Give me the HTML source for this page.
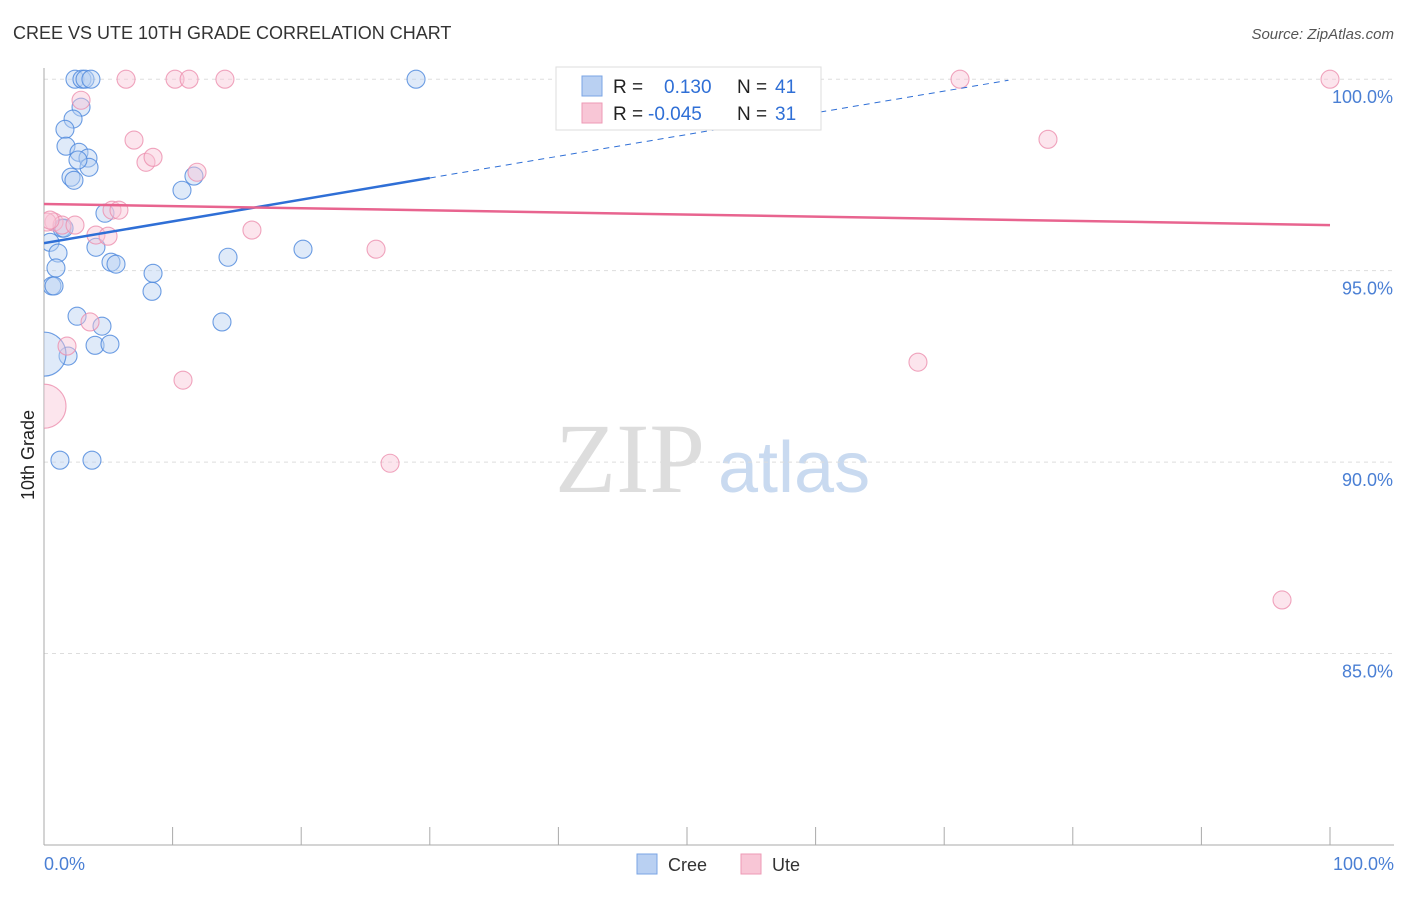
<!DOCTYPE html>
<html><head><meta charset="utf-8"><style>
body{margin:0;background:#fff;font-family:"Liberation Sans",sans-serif}
</style></head><body>
<svg width="1406" height="892" viewBox="0 0 1406 892">
<defs><clipPath id="plot"><rect x="44" y="60" width="1360" height="785"/></clipPath></defs>
<text x="13" y="39" font-size="18" fill="#333">CREE VS UTE 10TH GRADE CORRELATION CHART</text>
<text x="1394" y="39" font-size="15" fill="#555" font-style="italic" text-anchor="end">Source: ZipAtlas.com</text>
<text x="555" y="492" font-size="100" fill="#ddd" font-family="Liberation Serif,serif">ZIP</text>
<text x="718" y="492" font-size="72" fill="#c9daf0">atlas</text>
<g id="grid"></g>
<line x1="44" y1="68" x2="44" y2="845" stroke="#aaa"/>
<line x1="44" y1="845" x2="1394" y2="845" stroke="#aaa"/>
<text x="34" y="455" font-size="18" fill="#222" text-anchor="middle" transform="rotate(-90 34 455)">10th Grade</text>
<text x="44" y="870" font-size="18" fill="#4a7fd4">0.0%</text>
<text x="1394" y="870" font-size="18" fill="#4a7fd4" text-anchor="end">100.0%</text>
<g id="marks" clip-path="url(#plot)"></g>
<g>
<rect x="556" y="67" width="265" height="63" fill="#fff" stroke="#ddd"/>
<rect x="582" y="76" width="20" height="20" fill="#b9d0f2" stroke="#7aa4e4"/>
<rect x="582" y="103" width="20" height="20" fill="#f8c6d6" stroke="#ee9ab5"/>
<text x="613" y="93" font-size="19" fill="#222">R =</text>
<text x="664" y="93" font-size="19" fill="#2f6fd6">0.130</text>
<text x="737" y="93" font-size="19" fill="#222">N =</text>
<text x="775" y="93" font-size="19" fill="#2f6fd6">41</text>
<text x="613" y="120" font-size="19" fill="#222">R =</text>
<text x="648" y="120" font-size="19" fill="#2f6fd6">-0.045</text>
<text x="737" y="120" font-size="19" fill="#222">N =</text>
<text x="775" y="120" font-size="19" fill="#2f6fd6">31</text>
</g>
<g><rect x="637" y="854" width="20" height="20" fill="#b9d0f2" stroke="#7aa4e4"/><text x="668" y="871" font-size="18" fill="#333">Cree</text></g>
<g><rect x="741" y="854" width="20" height="20" fill="#f8c6d6" stroke="#ee9ab5"/><text x="772" y="871" font-size="18" fill="#333">Ute</text></g>
</svg>
<script>
const yTicks=[100,95,90,85];
const xTicks=[0,10,20,30,40,50,60,70,80,90,100];
const creeX=[2.41,2.95,3.19,3.65,28.93,2.88,2.26,1.63,1.71,2.72,3.42,3.50,2.10,2.33,10.73,11.66,4.74,1.40,0.47,4.04,1.09,5.21,5.60,20.14,14.31,8.48,0.93,0.62,0.78,8.40,2.57,4.51,13.84,1.87,3.97,5.13,0,1.24,3.73,1.56,2.64];
const creeY=[100,100,100,100,100,99.27,98.96,98.69,98.25,98.09,97.94,97.70,97.44,97.36,97.10,97.47,96.50,96.11,95.74,95.61,95.46,95.22,95.17,95.56,95.35,94.93,95.07,94.60,94.60,94.46,93.81,93.55,93.66,92.77,93.05,93.08,92.82,90.05,90.05,96.11,97.89];
const creeR=[9,9,9,9,9,9,9,9,9,9,9,9,9,9,9,9,9,9,9,9,9,9,9,9,9,9,9,9,9,9,9,9,9,9,9,9,22,9,9,9,9];
const uteX=[6.38,10.19,11.28,14.07,52.33,71.23,100,2.88,7.00,7.93,8.48,11.90,78.07,0.78,1.40,2.41,5.29,5.83,4.04,4.98,16.17,25.82,3.58,1.79,10.81,67.96,26.91,96.27,0,0.23,0.47];
const uteY=[100,100,100,100,100,100,100,99.45,98.41,97.83,97.96,97.57,98.43,96.27,96.19,96.19,96.58,96.58,95.93,95.90,96.06,95.56,93.66,93.03,92.14,92.61,89.97,86.40,91.46,96.27,96.32];
const uteR=[9,9,9,9,9,9,9,9,9,9,9,9,9,9,9,9,9,9,9,9,9,9,9,9,9,9,9,9,22,9,9];
const creeTrend=[95.72,0.0567];
const uteTrend=[96.74,-0.0055];
const NS='http://www.w3.org/2000/svg';
const sx=v=>44+v*12.86;
const sy=v=>845-(v-80)*38.29;
function mk(t,a,p){const e=document.createElementNS(NS,t);for(const k in a)e.setAttribute(k,a[k]);p.appendChild(e);return e;}
const grid=document.getElementById('grid'),marks=document.getElementById('marks');
yTicks.forEach(t=>{
 const l=mk('line',{x1:44,x2:1394,y1:sy(t),y2:sy(t),stroke:'#ddd','stroke-dasharray':'4,4'},grid);
 
 
 const tx=mk('text',{x:1393,y:sy(t)+24,'font-size':18,fill:'#4a7fd4','text-anchor':'end'},grid);
 tx.textContent=t.toFixed(1)+'%';
 
 
});
xTicks.forEach(t=>{
 const l=mk('line',{x1:sx(t),x2:sx(t),y1:827,y2:845,stroke:'#aaa'},grid);
 
 
});
function pts(X,Y,R,fill,stroke,name){X.forEach((x,i)=>{
 const c=mk('circle',{cx:sx(x),cy:sy(Y[i]),r:R[i],fill:fill,'fill-opacity':0.45,stroke:stroke,'stroke-width':1.1,'stroke-opacity':0.8},marks);
 
 
});}
pts(creeX,creeY,creeR,'#b9d0f2','#4a86dc','cree-point');
pts(uteX,uteY,uteR,'#f8c6d6','#ec8fae','ute-point');
let l=mk('line',{x1:sx(0),y1:sy(creeTrend[0]),x2:sx(30),y2:sy(creeTrend[0]+30*creeTrend[1]),stroke:'#2f6fd6','stroke-width':2.5},marks);


l=mk('line',{x1:sx(30),y1:sy(creeTrend[0]+30*creeTrend[1]),x2:sx(75),y2:sy(creeTrend[0]+75*creeTrend[1]),stroke:'#2f6fd6','stroke-width':1,'stroke-dasharray':'6,5'},marks);


l=mk('line',{x1:sx(0),y1:sy(uteTrend[0]),x2:sx(100),y2:sy(uteTrend[0]+100*uteTrend[1]),stroke:'#e8648f','stroke-width':2.5},marks);


</script>
</body></html>
